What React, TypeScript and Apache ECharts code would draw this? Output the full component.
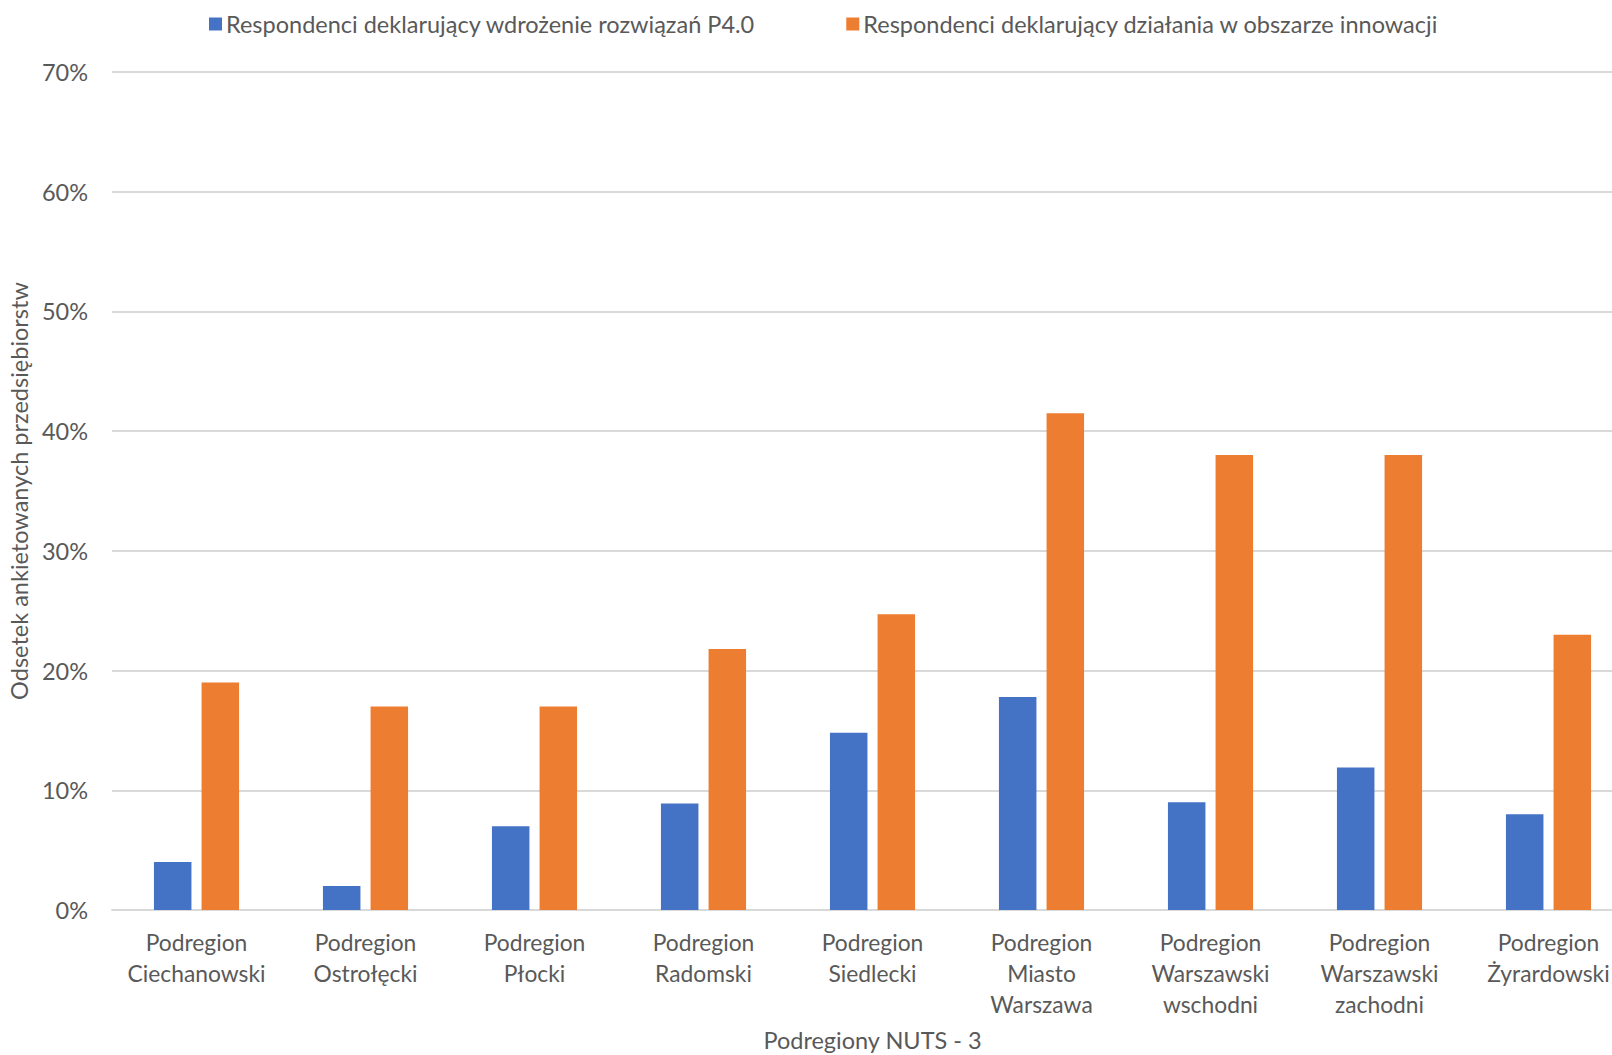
import React, { useEffect, useRef } from "react";
import * as echarts from "echarts";

const categories = [
  "Podregion Ciechanowski",
  "Podregion Ostrołęcki",
  "Podregion Płocki",
  "Podregion Radomski",
  "Podregion Siedlecki",
  "Podregion Miasto Warszawa",
  "Podregion Warszawski wschodni",
  "Podregion Warszawski zachodni",
  "Podregion Żyrardowski",
];
const seriesP40Name = "Respondenci deklarujący wdrożenie rozwiązań P4.0";
const seriesInnoName = "Respondenci deklarujący działania w obszarze innowacji";
const valuesP40 = [4, 2, 7, 8.9, 14.8, 17.8, 9, 11.9, 8];
const valuesInno = [19, 17, 17, 21.8, 24.7, 41.5, 38, 38, 23];
const yAxisTitle = "Odsetek ankietowanych przedsiębiorstw";
const xAxisTitle = "Podregiony NUTS - 3";

const FONT = "Lato, 'Open Sans', sans-serif";
const TXT = "#595959";
const FS = 23.5;

export default function App() {
  const ref = useRef<HTMLDivElement>(null);
  useEffect(() => {
    document.body.style.margin = "0";
    const chart = echarts.init(ref.current!, null, { renderer: "svg" });
    chart.setOption({
      animation: false,
      backgroundColor: "#ffffff",
      textStyle: { fontFamily: FONT, color: TXT },
      legend: {
        top: 7,
        left: 204,
        itemWidth: 13,
        itemHeight: 13,
        itemGap: 91,
        icon: "rect",
        textStyle: { fontFamily: FONT, fontSize: FS, color: TXT, padding: [0, 0, 0, -1] },
        data: [seriesP40Name, seriesInnoName],
      },
      grid: {
        left: 112,
        width: 1521,
        top: 72,
        bottom: 145,
        containLabel: false,
        outerBoundsMode: "none",
      },
      xAxis: {
        type: "category",
        data: categories,
        name: xAxisTitle,
        nameLocation: "middle",
        nameGap: 118,
        nameTextStyle: { fontFamily: FONT, fontSize: FS, color: TXT },
        axisLine: { lineStyle: { color: "#D9D9D9", width: 2 } },
        axisTick: { show: false },
        axisLabel: {
          interval: 0,
          margin: 16,
          fontFamily: FONT,
          fontSize: 22.8,
          lineHeight: 31,
          color: TXT,
          formatter: (v: string) => v.split(" ").join("\n"),
        },
      },
      yAxis: {
        type: "value",
        min: 0,
        max: 70,
        interval: 10,
        name: yAxisTitle,
        nameLocation: "middle",
        nameGap: 76,
        nameTextStyle: { fontFamily: FONT, fontSize: FS, color: TXT },
        axisLine: { show: false },
        axisTick: { show: false },
        axisLabel: {
          margin: 24,
          fontFamily: FONT,
          fontSize: FS,
          color: TXT,
          formatter: "{value}%",
        },
        splitLine: { lineStyle: { color: "#D9D9D9", width: 2 } },
      },
      series: [
        {
          name: seriesP40Name,
          type: "bar",
          data: valuesP40,
          barWidth: 37.5,
          barGap: "27%",
          itemStyle: { color: "#4472C4" },
        },
        {
          name: seriesInnoName,
          type: "bar",
          data: valuesInno,
          barWidth: 37.5,
          barGap: "27%",
          itemStyle: { color: "#ED7D31" },
        },
      ],
    });
    return () => chart.dispose();
  }, []);
  return (
    <div
      ref={ref}
      style={{ position: "absolute", left: 0, top: 0, width: 1612, height: 1055, overflow: "hidden" }}
    />
  );
}
